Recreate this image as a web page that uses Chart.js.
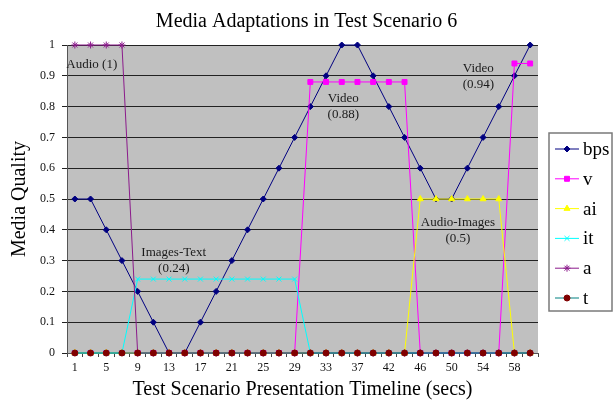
<!DOCTYPE html>
<html>
<head>
<meta charset="utf-8">
<script src="https://cdn.jsdelivr.net/npm/chart.js@4"></script>
<style>
  html, body { margin: 0; padding: 0; background: #fff; }
  #wrap { width: 613px; height: 400px; }
</style>
</head>
<body>
<div id="wrap"><canvas id="mediaChart" width="613" height="400"></canvas></div>
<script>
// Временная шкала (сек)
const seconds = [1, 3, 5, 7, 9, 11, 13, 15, 17, 19, 21, 23, 25, 27, 29, 31, 33, 35, 37, 40,
                 42, 44, 46, 48, 50, 52, 54, 56, 58, 60];

// Значения серий
const bps = [0.5, 0.5, 0.4, 0.3, 0.2, 0.1, 0, 0, 0.1, 0.2, 0.3, 0.4, 0.5, 0.6, 0.7, 0.8, 0.9, 1, 1, 0.9,
             0.8, 0.7, 0.6, 0.5, 0.5, 0.6, 0.7, 0.8, 0.9, 1];
const v   = [0, 0, 0, 0, 0, 0, 0, 0, 0, 0, 0, 0, 0, 0, 0, 0.88, 0.88, 0.88, 0.88, 0.88,
             0.88, 0.88, 0, 0, 0, 0, 0, 0, 0.94, 0.94];
const ai  = [0, 0, 0, 0, 0, 0, 0, 0, 0, 0, 0, 0, 0, 0, 0, 0, 0, 0, 0, 0,
             0, 0, 0.5, 0.5, 0.5, 0.5, 0.5, 0.5, 0, 0];
const it  = [0, 0, 0, 0, 0.24, 0.24, 0.24, 0.24, 0.24, 0.24, 0.24, 0.24, 0.24, 0.24, 0.24, 0, 0, 0, 0, 0,
             0, 0, 0, 0, 0, 0, 0, 0, 0, 0];
const a   = [1, 1, 1, 1, 0, 0, 0, 0, 0, 0, 0, 0, 0, 0, 0, 0, 0, 0, 0, 0,
             0, 0, 0, 0, 0, 0, 0, 0, 0, 0];
const t   = [0, 0, 0, 0, 0, 0, 0, 0, 0, 0, 0, 0, 0, 0, 0, 0, 0, 0, 0, 0,
             0, 0, 0, 0, 0, 0, 0, 0, 0, 0];

const yTicks = [0, 0.1, 0.2, 0.3, 0.4, 0.5, 0.6, 0.7, 0.8, 0.9, 1];

// Подписи на графике: текст, индекс категории, значение
const notes = [
  { text: ['Audio (1)'], at: 1.08, val: 0.935 },
  { text: ['Video', '(0.88)'], at: 17.1, val: 0.80 },
  { text: ['Video', '(0.94)'], at: 25.7, val: 0.896 },
  { text: ['Images-Text', '(0.24)'], at: 6.3, val: 0.30 },
  { text: ['Audio-Images', '(0.5)'], at: 24.4, val: 0.396 }
];

const SERIF = '"Liberation Serif", "Times New Roman", serif';

function series(label, data, line, mark, style, radius, order) {
  return {
    label: label,
    data: data,
    borderColor: line,
    borderWidth: 1,
    backgroundColor: mark,
    pointBackgroundColor: mark,
    pointBorderColor: mark,
    pointBorderWidth: 1,
    pointStyle: style,
    pointRadius: radius,
    tension: 0,
    clip: false,
    order: order
  };
}

// Серый фон области построения
const plotBg = {
  id: 'plotBg',
  beforeDraw(chart) {
    const { ctx, chartArea: c } = chart;
    ctx.save();
    ctx.fillStyle = '#c0c0c0';
    ctx.fillRect(c.left, c.top, c.right - c.left, c.bottom - c.top);
    ctx.restore();
  }
};

// Текстовые пометки
const notesPlugin = {
  id: 'notes',
  afterDatasetsDraw(chart) {
    const ctx = chart.ctx;
    const xs = chart.scales.x, ys = chart.scales.y;
    ctx.save();
    ctx.font = '13px ' + SERIF;
    ctx.fillStyle = '#1a1a1a';
    ctx.textAlign = 'center';
    ctx.textBaseline = 'middle';
    notes.forEach(n => {
      const px = xs.getPixelForValue(n.at);
      const py = ys.getPixelForValue(n.val);
      const lh = 16;
      const y0 = py - (n.text.length - 1) * lh / 2;
      n.text.forEach((s, i) => ctx.fillText(s, px, y0 + i * lh));
    });
    ctx.restore();
  }
};

// Легенда в рамке справа
const boxLegend = {
  id: 'boxLegend',
  afterDraw(chart) {
    const ctx = chart.ctx;
    const left = 549, top = 133, w = 63, h = 178, row = 29.8;
    ctx.save();
    ctx.strokeStyle = '#7a7a7a';
    ctx.lineWidth = 1.5;
    ctx.strokeRect(left, top, w, h);
    ctx.font = '19px ' + SERIF;
    ctx.textBaseline = 'middle';
    ctx.textAlign = 'left';
    chart.data.datasets.forEach((ds, i) => {
      const y = top + 16 + i * row;
      ctx.strokeStyle = ds.borderColor;
      ctx.lineWidth = 1;
      ctx.beginPath();
      ctx.moveTo(555, y);
      ctx.lineTo(579, y);
      ctx.stroke();
      ctx.fillStyle = ds.pointBackgroundColor;
      ctx.strokeStyle = ds.pointBorderColor;
      Chart.helpers.drawPoint(ctx, { pointStyle: ds.pointStyle, radius: ds.pointRadius, borderWidth: 1, rotation: 0 }, 567, y);
      ctx.fillStyle = '#000';
      ctx.fillText(ds.label, 583, y + 1);
    });
    ctx.restore();
  }
};

const ctx = document.getElementById('mediaChart').getContext('2d');

new Chart(ctx, {
  type: 'line',
  data: {
    labels: seconds,
    datasets: [
      series('bps', bps, '#000080', '#000080', 'rectRot', 3, 6),
      series('v', v, '#ff00ff', '#ff00ff', 'rect', 3.5, 5),
      series('ai', ai, '#ffff00', '#ffff00', 'triangle', 3.5, 4),
      series('it', it, '#00ffff', '#00ffff', 'crossRot', 3.5, 3),
      series('a', a, '#8b1a8b', '#8b1a8b', 'star', 3.5, 2),
      series('t', t, '#008080', '#800000', 'circle', 3, 1)
    ]
  },
  options: {
    responsive: false,
    animation: false,
    layout: { padding: 0 },
    plugins: {
      legend: { display: false },
      tooltip: { enabled: false },
      title: {
        display: true,
        text: 'Media Adaptations in Test Scenario 6',
        color: '#000',
        font: { family: SERIF, size: 20, weight: 'normal', lineHeight: 1.2 },
        padding: { top: 10, bottom: 11 }
      }
    },
    scales: {
      x: {
        type: 'category',
        offset: true,
        grid: { display: true, offset: true, drawOnChartArea: false, tickLength: 4, color: '#444' },
        border: { display: true, color: '#555', width: 1 },
        ticks: {
          autoSkip: false,
          maxRotation: 0,
          padding: 4,
          color: '#111',
          font: { family: SERIF, size: 12 },
          callback: function (val, idx) { return idx % 2 === 0 ? seconds[idx] : ''; }
        },
        title: {
          display: true,
          text: 'Test Scenario Presentation Timeline (secs)',
          color: '#000',
          font: { family: SERIF, size: 20, lineHeight: 1 },
          padding: { top: 0, bottom: 0 }
        },
        afterFit(scale) { scale.height = 47; }
      },
      y: {
        min: 0,
        max: 1,
        afterBuildTicks(scale) { scale.ticks = yTicks.map(v => ({ value: v })); },
        grid: { color: '#222', lineWidth: 1, tickLength: 5 },
        border: { display: true, color: '#555', width: 1 },
        ticks: {
          padding: 7,
          color: '#111',
          font: { family: SERIF, size: 12 },
          callback: v => String(+v.toFixed(1))
        },
        title: {
          display: true,
          text: 'Media Quality',
          color: '#000',
          font: { family: SERIF, size: 20, lineHeight: 1 },
          padding: { top: 10, bottom: 0 }
        },
        afterFit(scale) { scale.width = 67; }
      },
      // пустая ось справа — место под легенду
      yRight: {
        position: 'right',
        display: true,
        grid: { display: false },
        border: { display: false },
        ticks: { display: false },
        afterFit(scale) { scale.width = 75; }
      }
    }
  },
  plugins: [plotBg, notesPlugin, boxLegend]
});
</script>
</body>
</html>
